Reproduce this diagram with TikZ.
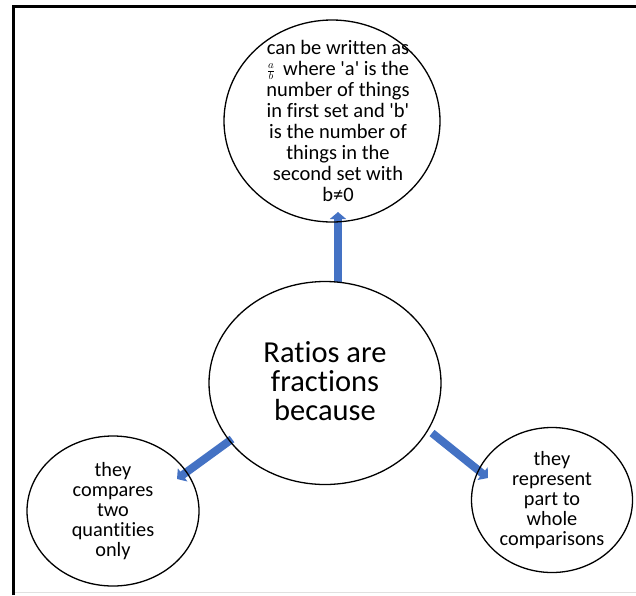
\documentclass[tikz,border=0pt]{standalone}
\usepackage{fontspec}
\newfontfamily\carl{Carlito}[Ligatures=NoCommon]
\usetikzlibrary{shapes.geometric,arrows.meta,backgrounds}
\definecolor{linkblue}{HTML}{4472C4}
\begin{document}
\begin{tikzpicture}[x=1pt,y=-1pt,
  bubble/.style={ellipse, draw, line width=1.3pt, inner sep=0pt, align=center},
  bigtext/.style={font=\carl\fontsize{30.5}{29}\selectfont},
  midtext/.style={font=\carl\fontsize{20.5}{21}\selectfont},
  smalltext/.style={font=\carl\fontsize{20.3}{20}\selectfont},
  link/.style={linkblue, line width=8pt, -{Triangle[width=16pt,length=7pt]}}]
\useasboundingbox (0,0) rectangle (636,595);
% page frame
\draw[line width=3pt] (13.5,595) -- (13.5,6) -- (636,6);
\draw[black!12, line width=1.5pt] (15,592.5) -- (636,592.5);

% bubbles
\node[bubble, minimum width=232, minimum height=203] (c) at (325,383) {};
\node[bigtext, align=center] at (325,381) {Ratios are\\ fractions\\ because};
\node[bubble, minimum width=216, minimum height=202] (def) at (332,121) {};
\node[midtext, align=center] at (338,121)
  {can be written as\\
   \raisebox{1pt}{\fontsize{15.5}{15.5}\selectfont$\frac{a}{b}$}\, where 'a' is the\\ number of things\\ in first set and 'b'\\
   is the number of\\ things in the\\ second set with\\ b≠0};
\node[bubble, smalltext, minimum width=172, minimum height=150] (two) at (113,511)
  {they\\ compares\\ two\\ quantities\\ only};
\node[bubble, smalltext, minimum width=161, minimum height=145] (part) at (552,500)
  {they\\ represent\\ part to\\ whole\\ comparisons};

% arrow end points
\coordinate (up0) at (338,282);
\coordinate (up1) at (338,212);
\coordinate (lf0) at (232,439);
\coordinate (lf1) at (177,479);
\coordinate (rt0) at (432,433);
\coordinate (rt1) at (488,478);

\begin{pgfonlayer}{background}
\draw[link] (up0) -- (up1);
\draw[link] (lf0) -- (lf1);
\draw[link] (rt0) -- (rt1);
\end{pgfonlayer}
\end{tikzpicture}
\end{document}
